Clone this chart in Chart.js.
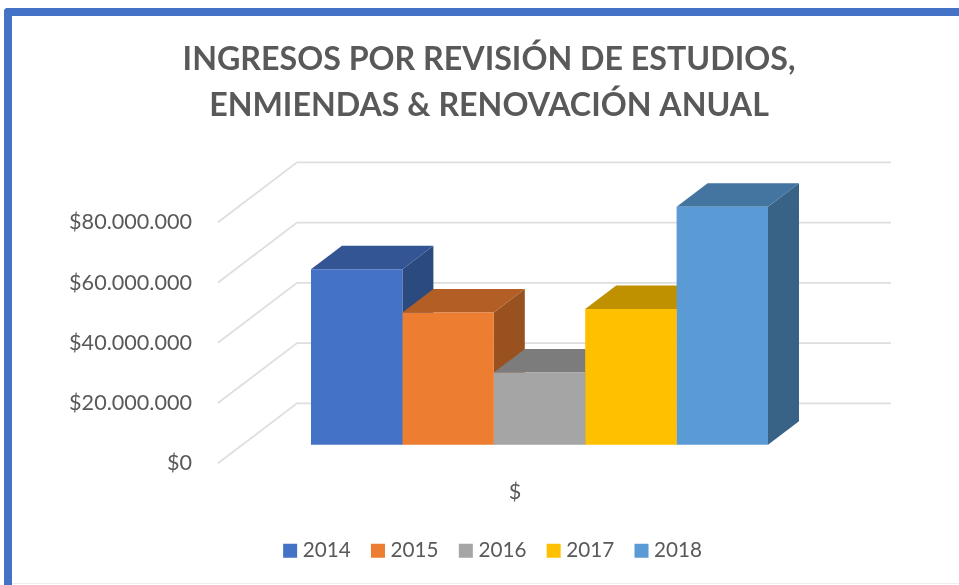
<!DOCTYPE html>
<html>
<head>
<meta charset="utf-8">
<script src="https://cdn.jsdelivr.net/npm/chart.js@4"></script>
<style>
  html, body { margin: 0; padding: 0; background: #fff; overflow: hidden; }
  #frame { position: absolute; left: 4px; top: 8px; width: 960px; height: 580px; box-sizing: border-box;
           border-top: 8px solid #4472C4; border-left: 8px solid #4472C4; border-top-left-radius: 4px; }
  #foot { position: absolute; left: 12px; right: 0; top: 583px; height: 1px; background: #eeeeee; }
  #myChart { position: absolute; left: 0; top: 0; }
</style>
</head>
<body>
<div id="frame"></div>
<div id="foot"></div>
<canvas id="myChart" width="959" height="585"></canvas>
<script>
const categories = ['$'];
const years = ['2014', '2015', '2016', '2017', '2018'];
const ingresos = [58300000, 43900000, 24000000, 45100000, 79000000];
const colores = ['#4472C4', '#ED7D31', '#A5A5A5', '#FFC000', '#5B9BD5'];
const coloresTapa = ['#335593', '#B25E25', '#7C7C7C', '#BF9000', '#4475A0'];
const coloresLado = ['#2B4A80', '#995120', '#6B6B6B', '#A67C00', '#386286'];
const titulo = ['INGRESOS POR REVISIÓN DE ESTUDIOS,', 'ENMIENDAS & RENOVACIÓN ANUAL'];

const gris = '#595959';

// 3D look: walls go back by this much, bars sit in the middle of the floor
const wall = { dx: 79, dy: 60 };
const inset = { dx: 24.5, dy: 18.5 };
const depth = { dx: 31, dy: 23.5 };

const bars3d = {
  id: 'bars3d',
  afterLayout(chart) {
    // nudge the legend a little to the right
    chart.legend.left += 12;
  },
  beforeDatasetsDraw(chart) {
    const ctx = chart.ctx;
    const area = chart.chartArea;
    const y = chart.scales.y;

    // gridlines: left wall + back wall
    ctx.save();
    ctx.strokeStyle = '#dedede';
    ctx.lineWidth = 1.75;
    y.ticks.forEach(t => {
      const py = y.getPixelForValue(t.value);
      ctx.beginPath();
      ctx.moveTo(area.left, py);
      ctx.lineTo(area.left + wall.dx, py - wall.dy);
      ctx.lineTo(area.right + wall.dx, py - wall.dy);
      ctx.stroke();
    });
    ctx.restore();

    // side and top of every bar, left to right so they overlap properly
    years.forEach((yr, i) => {
      const el = chart.getDatasetMeta(i).data[0];
      const left = el.x - el.width / 2 + inset.dx;
      const right = el.x + el.width / 2 + inset.dx;
      const top = el.y - inset.dy;
      const base = el.base - inset.dy;

      ctx.fillStyle = coloresLado[i];
      ctx.beginPath();
      ctx.moveTo(right, top);
      ctx.lineTo(right + depth.dx, top - depth.dy);
      ctx.lineTo(right + depth.dx, base - depth.dy);
      ctx.lineTo(right, base);
      ctx.closePath();
      ctx.fill();

      ctx.fillStyle = coloresTapa[i];
      ctx.beginPath();
      ctx.moveTo(left, top);
      ctx.lineTo(left + depth.dx, top - depth.dy);
      ctx.lineTo(right + depth.dx, top - depth.dy);
      ctx.lineTo(right, top);
      ctx.closePath();
      ctx.fill();
    });

    // the library's own bars are the front faces
    ctx.save();
    ctx.translate(inset.dx, -inset.dy);
  },
  afterDatasetsDraw(chart) {
    chart.ctx.restore();
  }
};

new Chart('myChart', {
  type: 'bar',
  data: {
    labels: categories,
    datasets: years.map((yr, i) => ({
      label: yr,
      data: [ingresos[i]],
      backgroundColor: colores[i],
      categoryPercentage: 0.7694,
      barPercentage: 1,
      clip: false
    }))
  },
  plugins: [bars3d],
  options: {
    responsive: false,
    animation: false,
    layout: { padding: { left: 19, right: 0, top: 0, bottom: 14 } },
    scales: {
      x: {
        grid: { display: false },
        border: { display: false },
        ticks: { color: gris, font: { family: 'Lato', size: 21.6 }, padding: 8 },
        afterFit: s => { s.height = 52; }
      },
      y: {
        min: 0,
        max: 80000000,
        grid: { display: false },
        border: { display: false },
        ticks: {
          stepSize: 20000000,
          color: gris,
          font: { family: 'Lato', size: 21.6 },
          padding: 18,
          callback: v => '$' + String(v).replace(/\B(?=(\d{3})+$)/g, '.')
        },
        afterFit: s => { s.width = 199; }
      },
      // empty axis, only keeps room for the back wall on the right
      derecha: {
        position: 'right',
        display: true,
        grid: { display: false },
        border: { display: false },
        ticks: { display: false },
        afterFit: s => { s.width = 147; }
      }
    },
    plugins: {
      tooltip: { enabled: false },
      title: {
        display: true,
        text: titulo,
        color: gris,
        font: { family: 'Lato', size: 32.2, weight: 'bold', lineHeight: 1.43 },
        padding: { top: 36.5, bottom: 93.7 }
      },
      legend: {
        position: 'bottom',
        labels: {
          color: gris,
          font: { family: 'Lato', size: 20.7 },
          boxWidth: 4.5,
          boxHeight: 4.5,
          padding: 25,
          generateLabels: chart =>
            Chart.defaults.plugins.legend.labels.generateLabels(chart)
              .map(it => ({ ...it, strokeStyle: it.fillStyle, lineWidth: 9.5 }))
        }
      }
    }
  }
});
</script>
</body>
</html>
